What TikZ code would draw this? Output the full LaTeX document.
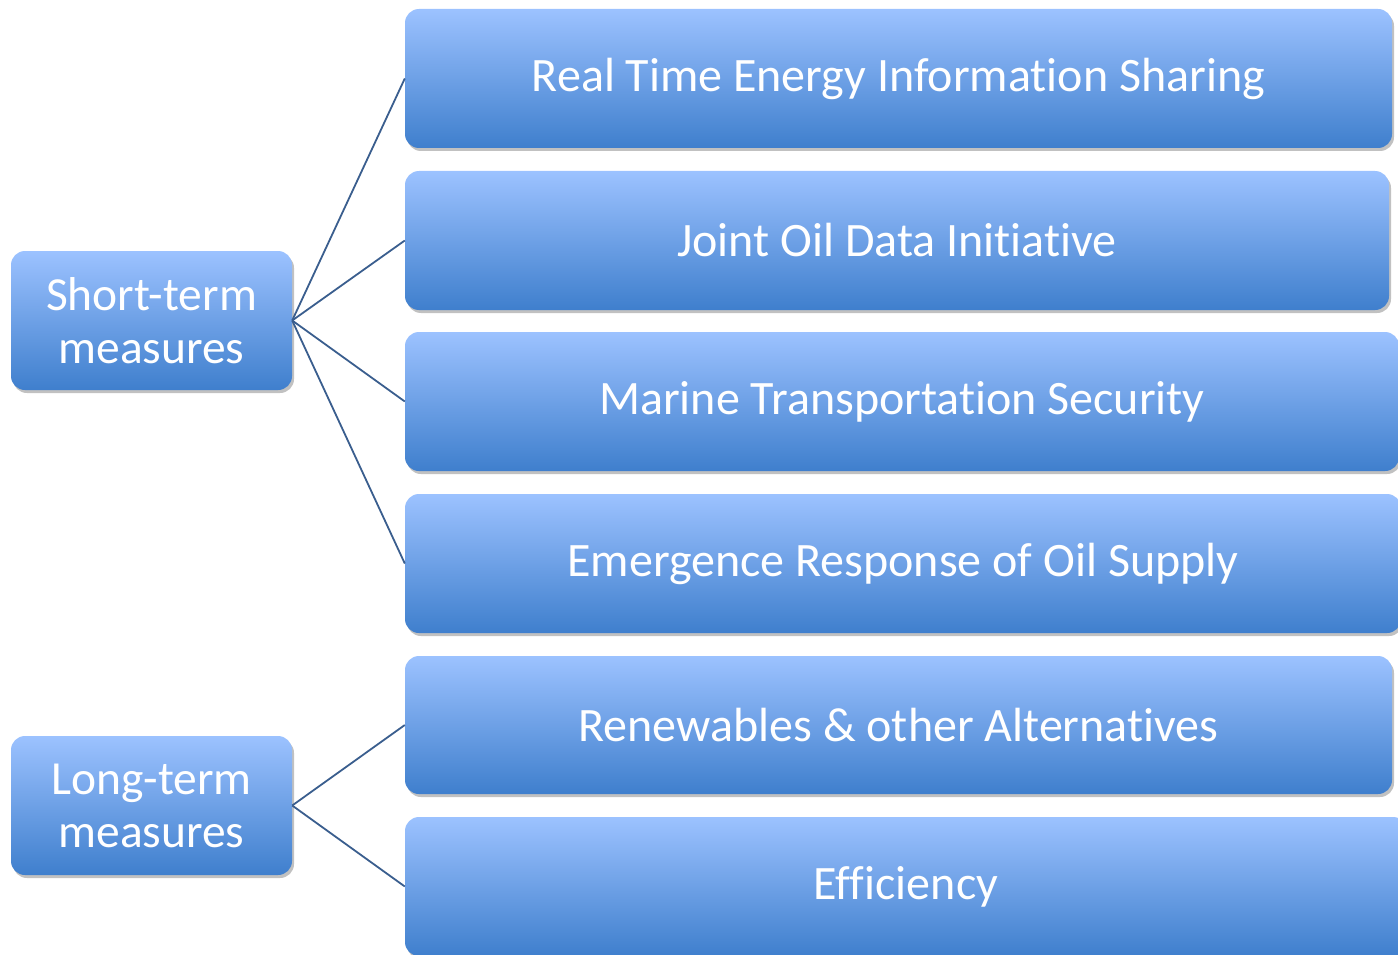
\documentclass[tikz,border=0pt]{standalone}
\usepackage{fontspec}
\setmainfont[Ligatures={NoCommon}]{Carlito}
\usetikzlibrary{shadows}
\definecolor{topblue}{HTML}{9CC2FF}
\definecolor{botblue}{HTML}{3F7FCD}
\definecolor{linkblue}{HTML}{3A5E8E}
\tikzset{
  box/.style={rounded corners=14pt, top color=topblue, bottom color=botblue, draw=none,
    drop shadow={shadow xshift=2pt, shadow yshift=-3pt, opacity=0.35, fill=black!70},
    text=white, align=center, inner sep=0pt},
  rbox/.style={box, font=\fontsize{48}{52}\selectfont},
  lbox/.style={box, font=\fontsize{47.5}{53}\selectfont},
  link/.style={draw=linkblue, line width=1.8pt}
}
\begin{document}
\begin{tikzpicture}[x=1pt,y=-1pt]
\useasboundingbox (0,0) rectangle (1398,955);
\clip (0,0) rectangle (1398,955);
\node[lbox, minimum width=281pt, minimum height=139pt] (st) at (151.5,320.5) {Short-term\\measures};
\node[lbox, minimum width=281pt, minimum height=139pt] (lt) at (151.5,805.5) {Long-term\\measures};
\node[rbox, minimum width=987pt, minimum height=139pt] (r1) at (898.5,78.5) {Real Time Energy Information Sharing};
\node[rbox, minimum width=984pt, minimum height=139pt] (r2) at (897,240.5) {Joint Oil Data Initiative};
\node[rbox, minimum width=994pt, minimum height=139pt] (r3) at (902,401.5) {Marine Transportation Security};
\node[rbox, minimum width=996pt, minimum height=139pt] (r4) at (903,563.5) {Emergence Response of Oil Supply};
\node[rbox, minimum width=987pt, minimum height=138pt] (r5) at (898.5,725) {Renewables \& other Alternatives};
\node[rbox, minimum width=1002pt, minimum height=139pt] (r6) at (906,886.5) {Efficiency};
\draw[link] (st.east) -- (r1.west);
\draw[link] (st.east) -- (r2.west);
\draw[link] (st.east) -- (r3.west);
\draw[link] (st.east) -- (r4.west);
\draw[link] (lt.east) -- (r5.west);
\draw[link] (lt.east) -- (r6.west);
\end{tikzpicture}
\end{document}
